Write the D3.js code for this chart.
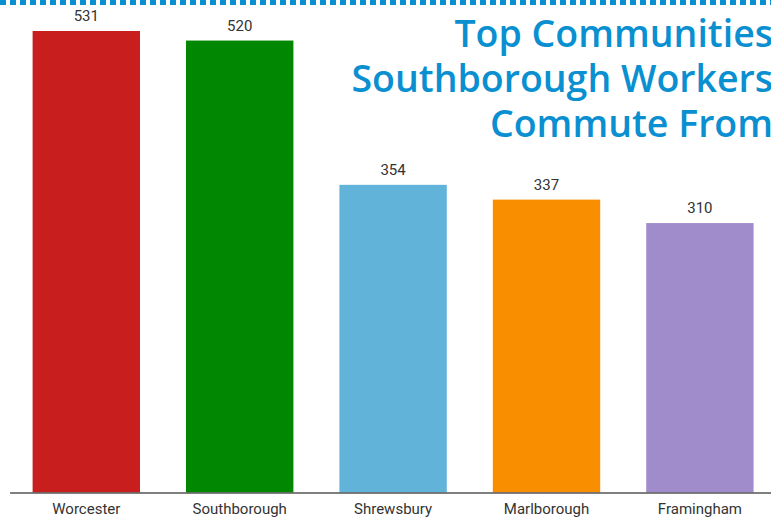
<!DOCTYPE html>
<html>
<head>
<meta charset="utf-8">
<script src="https://cdn.jsdelivr.net/npm/d3@7"></script>
<style>
  html, body { margin: 0; padding: 0; background: #fff; }
  svg { display: block; }
</style>
</head>
<body>
<svg id="chart" width="771" height="517"></svg>
<script>
const categories = ["Worcester", "Southborough", "Shrewsbury", "Marlborough", "Framingham"];
const values = [531, 520, 354, 337, 310];
const colors = ["#c81e1e", "#018701", "#62b3d9", "#f98e00", "#a18ccb"];
const titleLines = ["Top Communities", "Southborough Workers", "Commute From"];

const W = 771, H = 517;
const svg = d3.select("#chart");

// dotted top rule
svg.append("line")
  .attr("x1", 0).attr("x2", W)
  .attr("y1", 2.5).attr("y2", 2.5)
  .attr("stroke", "#0a8fd0")
  .attr("stroke-width", 5)
  .attr("stroke-dasharray", "6,4");

const x = d3.scaleBand()
  .domain(categories)
  .range([9.6, 776.6])
  .paddingInner(0.3)
  .paddingOuter(0.15);

const y = d3.scaleLinear()
  .domain([0, 531])
  .range([492.5, 31]);

// bars
svg.append("g").selectAll("rect")
  .data(categories)
  .join("rect")
  .attr("x", d => x(d))
  .attr("y", (d, i) => y(values[i]))
  .attr("width", x.bandwidth())
  .attr("height", (d, i) => y(0) - y(values[i]))
  .attr("fill", (d, i) => colors[i]);

// value labels
svg.append("g").selectAll("text")
  .data(categories)
  .join("text")
  .attr("x", d => x(d) + x.bandwidth() / 2)
  .attr("y", (d, i) => y(values[i]) - 10)
  .attr("text-anchor", "middle")
  .attr("font-family", "Roboto, sans-serif")
  .attr("font-size", 15)
  .attr("fill", "#333")
  .text((d, i) => values[i]);

// x axis
const axis = svg.append("g")
  .attr("transform", `translate(0,${y(0)})`)
  .call(d3.axisBottom(x).tickSize(0).tickSizeOuter(0).tickPadding(11));
axis.select(".domain").attr("stroke", "#555").attr("stroke-width", 1.5);
axis.selectAll("text")
  .attr("font-family", "Roboto, sans-serif")
  .attr("font-size", 15)
  .attr("fill", "#333");

// title
svg.append("g").selectAll("text")
  .data(titleLines)
  .join("text")
  .attr("x", 773)
  .attr("y", (d, i) => 47 + i * 45)
  .attr("text-anchor", "end")
  .attr("font-family", "'Open Sans', sans-serif")
  .attr("font-weight", 600)
  .attr("font-size", 37.5)
  .attr("fill", "#0a8fd0")
  .text(d => d);
</script>
</body>
</html>
